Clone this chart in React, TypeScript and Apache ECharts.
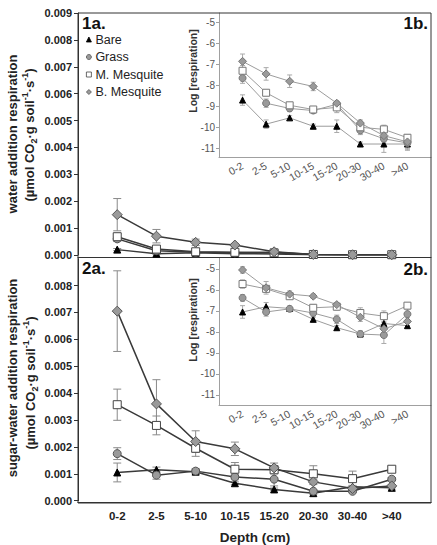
import React, { useEffect, useRef } from "react";
import * as echarts from "echarts";

// ---------- data ----------
const depthLabels = ["0-2", "2-5", "5-10", "10-15", "15-20", "20-30", "30-40", ">40"];
const axisCats = ["", ...depthLabels, ""];
const seriesNames = ["Bare", "Grass", "M. Mesquite", "B. Mesquite"];

// 1a: water addition respiration
const waterBare = [0.0002, 0.00005, 0.00008, 0.00005, 0.00004, 0.00001, 0.00001, 0.00001];
const waterBareSE = [0.00004, 0.00002, 0.00002, 0.00001, 0.00001, 0.000005, 0.000005, 0.000005];
const waterGrass = [0.0006, 0.00016, 0.0001, 0.00008, 0.0001, 0.00002, 0.00001, 0.00001];
const waterGrassSE = [0.0001, 0.00004, 0.00002, 0.00002, 0.00002, 0.00001, 0.000005, 0.000005];
const waterMMesq = [0.00068, 0.00022, 0.00012, 0.0001, 0.00008, 0.00002, 0.00001, 0.00001];
const waterMMesqSE = [0.0001, 0.00005, 0.00003, 0.00002, 0.00002, 0.00001, 0.000005, 0.000005];
const waterBMesq = [0.0015, 0.0007, 0.00047, 0.00037, 0.00012, 0.00002, 0.00001, 0.00001];
const waterBMesqSE = [0.0006, 0.00025, 0.00012, 0.00006, 0.00004, 0.00001, 0.000005, 0.000005];

// 2a: sugar-water addition respiration
const sugarBare = [0.00105, 0.00115, 0.00108, 0.00065, 0.00042, 0.00028, 0.00052, 0.00048];
const sugarBareSE = [0.00035, 0.0001, 0.00008, 0.00005, 0.00005, 0.00004, 0.00005, 0.00005];
const sugarGrass = [0.00175, 0.00095, 0.0011, 0.00088, 0.0008, 0.00035, 0.00035, 0.0008];
const sugarGrassSE = [0.00022, 0.00015, 0.0001, 0.0001, 0.00025, 0.00005, 0.00005, 0.00006];
const sugarMMesq = [0.00357, 0.0028, 0.00195, 0.00117, 0.00115, 0.001, 0.00082, 0.00117];
const sugarMMesqSE = [0.00058, 0.00035, 0.0003, 0.00025, 0.00015, 0.0003, 0.00028, 0.0001];
const sugarBMesq = [0.00705, 0.0036, 0.0022, 0.00193, 0.00122, 0.0007, 0.00045, 0.00055];
const sugarBMesqSE = [0.0015, 0.0009, 0.0004, 0.00025, 0.00018, 0.0001, 0.00008, 0.00005];

// 1b: log respiration, water
const logWaterBare = [-8.7, -9.85, -9.55, -9.95, -9.95, -10.8, -10.8, -10.8];
const logWaterBareSE = [0.25, 0.2, 0.1, 0.1, 0.3, 0.1, 0.4, 0.3];
const logWaterGrass = [-7.65, -8.85, -9.1, -9.2, -8.9, -10.15, -10.55, -10.75];
const logWaterGrassSE = [0.25, 0.2, 0.15, 0.1, 0.1, 0.2, 0.3, 0.3];
const logWaterMMesq = [-7.3, -8.35, -8.95, -9.15, -9.05, -10.0, -10.1, -10.5];
const logWaterMMesqSE = [0.25, 0.1, 0.1, 0.1, 0.25, 0.2, 0.2, 0.15];
const logWaterBMesq = [-6.85, -7.45, -7.8, -8.05, -8.85, -9.8, -10.4, -10.7];
const logWaterBMesqSE = [0.35, 0.3, 0.3, 0.2, 0.1, 0.15, 0.3, 0.3];

// 2b: log respiration, sugar-water
const logSugarBare = [-7.05, -6.8, -6.88, -7.4, -7.8, -8.1, -7.6, -7.7];
const logSugarBareSE = [0.3, 0.2, 0.1, 0.1, 0.1, 0.1, 0.2, 0.15];
const logSugarGrass = [-6.38, -7.05, -6.9, -7.1, -7.4, -8.1, -8.15, -7.15];
const logSugarGrassSE = [0.15, 0.2, 0.1, 0.15, 0.2, 0.15, 0.4, 0.25];
const logSugarMMesq = [-5.72, -5.95, -6.3, -6.85, -6.8, -7.1, -7.25, -6.75];
const logSugarMMesqSE = [0.2, 0.15, 0.1, 0.15, 0.15, 0.25, 0.25, 0.1];
const logSugarBMesq = [-5.05, -5.9, -6.2, -6.3, -6.7, -7.3, -7.85, -7.5];
const logSugarBMesqSE = [0.15, 0.3, 0.15, 0.1, 0.1, 0.2, 0.3, 0.2];

// ---------- styles ----------
const FONT = "'Liberation Sans', Arial, Helvetica, sans-serif";

const mainMarker: any = {
  "Bare": { symbol: "triangle", size: 7, fill: "#000", border: "#000" },
  "Grass": { symbol: "circle", size: 8, fill: "#9a9a9a", border: "#555" },
  "M. Mesquite": { symbol: "rect", size: 8, fill: "#fff", border: "#444" },
  "B. Mesquite": { symbol: "diamond", size: 10, fill: "#9a9a9a", border: "#555" },
};
const insetMarker: any = {
  "Bare": { symbol: "triangle", size: 6, fill: "#000", border: "#000" },
  "Grass": { symbol: "circle", size: 7, fill: "#9a9a9a", border: "#777" },
  "M. Mesquite": { symbol: "rect", size: 7, fill: "#fff", border: "#777" },
  "B. Mesquite": { symbol: "diamond", size: 8, fill: "#9a9a9a", border: "#777" },
};

function lineSeries(name: string, axisIdx: number, vals: number[], inset: boolean) {
  const m = inset ? insetMarker[name] : mainMarker[name];
  return {
    type: "line",
    name,
    xAxisIndex: axisIdx,
    yAxisIndex: axisIdx,
    data: vals.map((v, i) => [i + 1, v]),
    symbol: m.symbol,
    symbolSize: m.size,
    showAllSymbol: true,
    z: 3,
    itemStyle: { color: m.fill, borderColor: m.border, borderWidth: 1, opacity: 1 },
    lineStyle: { color: inset ? "#9c9c9c" : "#3a3a3a", width: inset ? 1 : 1.5 },
    emphasis: { disabled: true },
  };
}

function errSeries(name: string, axisIdx: number, vals: number[], se: number[], inset: boolean) {
  const color = inset ? "#aaaaaa" : "#8a8a8a";
  const w = inset ? 2.5 : 4;
  return {
    type: "custom",
    name: name + " SE",
    xAxisIndex: axisIdx,
    yAxisIndex: axisIdx,
    z: 2,
    data: vals.map((v, i) => [i + 1, v - se[i], v + se[i]]),
    encode: { x: 0, y: [1, 2] },
    renderItem: (params: any, api: any) => {
      const x = api.value(0);
      const lo = api.coord([x, api.value(1)]);
      const hi = api.coord([x, api.value(2)]);
      const st = { stroke: color, lineWidth: 1 };
      return {
        type: "group",
        children: [
          { type: "line", shape: { x1: lo[0], y1: lo[1], x2: hi[0], y2: hi[1] }, style: st },
          { type: "line", shape: { x1: lo[0] - w, y1: lo[1], x2: lo[0] + w, y2: lo[1] }, style: st },
          { type: "line", shape: { x1: hi[0] - w, y1: hi[1], x2: hi[0] + w, y2: hi[1] }, style: st },
        ],
      };
    },
  };
}

function mainY(gridIndex: number, showMax: boolean) {
  return {
    type: "value",
    gridIndex,
    min: 0,
    max: 0.009,
    interval: 0.001,
    axisLine: { show: true, lineStyle: { color: "#333", width: 1 } },
    axisTick: { show: true, length: 4, lineStyle: { color: "#333" } },
    splitLine: { show: false },
    axisLabel: {
      formatter: (v: number) => v.toFixed(3),
      fontSize: 11,
      fontWeight: "bold",
      color: "#222",
      margin: 6,
      fontFamily: FONT,
      showMaxLabel: showMax,
    },
  };
}

function insetY(gridIndex: number, min: number, max: number) {
  return {
    type: "value",
    gridIndex,
    min,
    max,
    splitNumber: 7,
    axisLine: { show: true, lineStyle: { color: "#a0a0a0", width: 1 } },
    axisTick: { show: true, length: 3, lineStyle: { color: "#a0a0a0" } },
    splitLine: { show: false },
    axisLabel: {
      formatter: (v: number) => (Math.abs(v - Math.round(v)) < 1e-6 ? String(Math.round(v)) : ""),
      fontSize: 10,
      color: "#555",
      margin: 4,
      fontFamily: FONT,
      showMinLabel: false,
      showMaxLabel: false,
    },
  };
}

function mainX(gridIndex: number, showLabels: boolean) {
  return {
    type: "category",
    gridIndex,
    data: axisCats,
    boundaryGap: false,
    offset: 2,
    axisLine: { show: true, onZero: false, lineStyle: { color: "#333", width: 1 } },
    axisTick: { show: false },
    splitLine: { show: false },
    axisLabel: {
      show: showLabels,
      interval: 0,
      fontSize: 11.5,
      fontWeight: "bold",
      color: "#222",
      margin: 7,
      fontFamily: FONT,
    },
  };
}

function insetX(gridIndex: number) {
  return {
    type: "category",
    gridIndex,
    data: axisCats,
    boundaryGap: false,
    axisLine: { show: true, onZero: false, lineStyle: { color: "#a0a0a0", width: 1 } },
    axisTick: { show: false },
    splitLine: { show: false },
    axisLabel: {
      interval: 0,
      rotate: 30,
      fontSize: 10.5,
      color: "#555",
      margin: 8,
      fontFamily: FONT,
    },
  };
}

function titleRich(line1: string, x1: number, y1: number, x2: number, y2: number) {
  return [
    {
      type: "text",
      x: x1,
      y: y1,
      rotation: Math.PI / 2,
      silent: true,
      style: {
        text: line1,
        fontSize: 13,
        fontWeight: "bold",
        fontFamily: FONT,
        fill: "#222",
        align: "center",
        verticalAlign: "middle",
      },
    },
    {
      type: "text",
      x: x2,
      y: y2,
      rotation: Math.PI / 2,
      silent: true,
      style: {
        text: "{n|(µmol CO}{s|2}{n|·g soil}{p|-1}{n|·s}{p|-1}{n|)}",
        align: "center",
        verticalAlign: "middle",
        fill: "#222",
        rich: {
          n: { fontSize: 13, fontWeight: "bold", fontFamily: FONT, lineHeight: 18, fill: "#222", verticalAlign: "middle" },
          s: { fontSize: 9, fontWeight: "bold", fontFamily: FONT, lineHeight: 18, fill: "#222", verticalAlign: "bottom", padding: [8, 0, 0, 0] },
          p: { fontSize: 9, fontWeight: "bold", fontFamily: FONT, lineHeight: 18, fill: "#222", verticalAlign: "top", padding: [0, 0, 6, 0] },
        },
      },
    },
  ];
}

function panelLabel(text: string, x: number, y: number, align: string) {
  return {
    type: "text",
    x,
    y,
    silent: true,
    z: 50,
    style: { text, fontSize: 17, fontWeight: "bold", fontFamily: FONT, fill: "#111", align, verticalAlign: "top" },
  };
}

function logTitle(y: number) {
  return {
    type: "text",
    x: 193,
    y,
    rotation: Math.PI / 2,
    silent: true,
    style: { text: "Log [respiration]", fontSize: 10.5, fontWeight: "bold", fontFamily: FONT, fill: "#333", align: "center", verticalAlign: "middle" },
  };
}

function buildOption() {
  const panels = [
    { idx: 0, inset: false, vals: [waterBare, waterGrass, waterMMesq, waterBMesq], se: [waterBareSE, waterGrassSE, waterMMesqSE, waterBMesqSE] },
    { idx: 1, inset: false, vals: [sugarBare, sugarGrass, sugarMMesq, sugarBMesq], se: [sugarBareSE, sugarGrassSE, sugarMMesqSE, sugarBMesqSE] },
    { idx: 2, inset: true, vals: [logWaterBare, logWaterGrass, logWaterMMesq, logWaterBMesq], se: [logWaterBareSE, logWaterGrassSE, logWaterMMesqSE, logWaterBMesqSE] },
    { idx: 3, inset: true, vals: [logSugarBare, logSugarGrass, logSugarMMesq, logSugarBMesq], se: [logSugarBareSE, logSugarGrassSE, logSugarMMesqSE, logSugarBMesqSE] },
  ];
  const series: any[] = [];
  panels.forEach((p) => {
    seriesNames.forEach((n, k) => {
      series.push(lineSeries(n, p.idx, p.vals[k], p.inset));
    });
  });
  panels.forEach((p) => {
    seriesNames.forEach((n, k) => {
      series.push(errSeries(n, p.idx, p.vals[k], p.se[k], p.inset));
    });
  });

  return {
    animation: false,
    backgroundColor: "#fff",
    textStyle: { fontFamily: FONT },
    grid: [
      { left: 78, top: 13, width: 353, height: 242 },
      { left: 78, top: 258.7, width: 353, height: 242 },
      { left: 219, top: 13, width: 212, height: 144, show: true, backgroundColor: "#fff", borderWidth: 0 },
      { left: 219, top: 258, width: 212, height: 147, show: true, backgroundColor: "#fff", borderWidth: 0 },
    ],
    xAxis: [mainX(0, false), mainX(1, true), insetX(2), insetX(3)],
    yAxis: [mainY(0, true), mainY(1, false), insetY(2, -11.42, -4.54), insetY(3, -11.48, -4.48)],
    legend: {
      data: [
        { name: "Bare", icon: "triangle" },
        { name: "Grass", icon: "circle" },
        { name: "M. Mesquite", icon: "rect" },
        { name: "B. Mesquite", icon: "diamond" },
      ],
      orient: "vertical",
      left: 86,
      top: 33,
      padding: 0,
      itemWidth: 5,
      itemHeight: 5,
      itemGap: 4.5,
      selectedMode: false,
      itemStyle: { borderWidth: 0.8 },
      textStyle: { fontSize: 12.5, color: "#222", fontFamily: FONT, padding: [0, 0, 0, -1] },
    },
    graphic: [
      {
        type: "rect",
        shape: { x: 78, y: 13, width: 353, height: 490 },
        style: { fill: "none", stroke: "#333", lineWidth: 1 },
        silent: true,
        z: 40,
      },
      panelLabel("1a.", 82, 15, "left"),
      panelLabel("1b.", 428, 15, "right"),
      panelLabel("2a.", 82, 260, "left"),
      panelLabel("2b.", 428, 261, "right"),
      ...titleRich("water addition respiration", 12, 134, 29, 135),
      ...titleRich("sugar-water addition respiration", 12.5, 378, 30, 383),
      logTitle(71),
      logTitle(320),
      {
        type: "text",
        x: 255,
        y: 537,
        silent: true,
        style: { text: "Depth (cm)", fontSize: 13.5, fontWeight: "bold", fontFamily: FONT, fill: "#222", align: "center", verticalAlign: "middle" },
      },
    ],
    series,
  };
}

export default function App() {
  const ref = useRef<HTMLDivElement>(null);
  useEffect(() => {
    if (!ref.current) return;
    const chart = echarts.init(ref.current, null, { renderer: "svg" });
    chart.setOption(buildOption() as any);
    return () => chart.dispose();
  }, []);
  return (
    <div
      ref={ref}
      style={{ position: "absolute", left: 0, top: 0, width: 437, height: 545, background: "#fff" }}
    />
  );
}
